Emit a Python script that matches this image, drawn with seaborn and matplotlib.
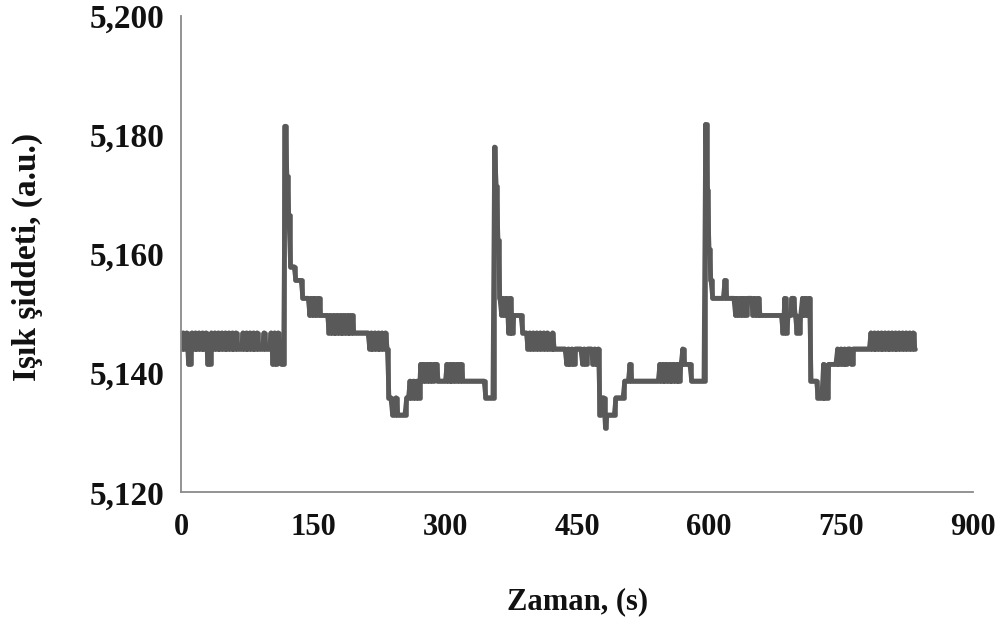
import numpy as np
import pandas as pd
import matplotlib
matplotlib.use("Agg")
import matplotlib.pyplot as plt
import seaborn as sns
from matplotlib.ticker import FuncFormatter

sns.set_theme(style="white")
plt.rcParams["font.family"] = ["Liberation Serif", "DejaVu Serif"]

# Sampling grid of the detector (one reading every 2 s)
seconds = np.arange(0, 836, 2)

# Light intensity readings (a.u.), 10 readings per row = 20 s per row
intensity = [
    5144.1, 5146.8, 5144.1, 5146.8, 5141.5, 5141.5, 5146.8, 5144.1, 5146.8, 5144.1,  # 0
    5146.8, 5144.1, 5146.8, 5144.1, 5146.8, 5141.5, 5141.5, 5146.8, 5144.1, 5146.8,  # 20
    5144.1, 5146.8, 5144.1, 5146.8, 5144.1, 5146.8, 5144.1, 5146.8, 5144.1, 5146.8,  # 40
    5144.1, 5146.8, 5144.1, 5144.1, 5144.1, 5146.8, 5144.1, 5146.8, 5144.1, 5146.8,  # 60
    5144.1, 5146.8, 5144.1, 5146.8, 5144.1, 5144.1, 5144.1, 5146.8, 5144.1, 5144.1,  # 80
    5144.1, 5146.8, 5141.5, 5146.8, 5141.5, 5146.8, 5144.1, 5141.5, 5141.5, 5181.5,  # 100
    5173.1, 5166.6, 5157.9, 5157.9, 5157.9, 5155.6, 5155.6, 5155.6, 5155.6, 5152.6,  # 120
    5152.6, 5152.6, 5152.6, 5149.7, 5152.6, 5149.7, 5152.6, 5149.7, 5152.6, 5149.7,  # 140
    5149.7, 5149.7, 5149.7, 5149.7, 5146.8, 5149.7, 5146.8, 5149.7, 5146.8, 5149.7,  # 160
    5146.8, 5149.7, 5146.8, 5149.7, 5146.8, 5149.7, 5146.8, 5149.7, 5146.8, 5146.8,  # 180
    5146.8, 5146.8, 5146.8, 5146.8, 5146.8, 5146.8, 5146.8, 5144.1, 5146.8, 5144.1,  # 200
    5146.8, 5144.1, 5146.8, 5144.1, 5146.8, 5144.1, 5146.8, 5144.1, 5135.9, 5135.9,  # 220
    5133.0, 5133.0, 5135.9, 5133.0, 5133.0, 5133.0, 5133.0, 5133.0, 5135.9, 5135.9,  # 240
    5138.7, 5135.9, 5138.7, 5135.9, 5138.7, 5135.9, 5141.5, 5138.7, 5141.5, 5138.7,  # 260
    5141.5, 5138.7, 5141.5, 5138.7, 5141.5, 5141.5, 5138.7, 5138.7, 5138.7, 5138.7,  # 280
    5138.7, 5141.5, 5138.7, 5141.5, 5138.7, 5141.5, 5138.7, 5141.5, 5138.7, 5141.5,  # 300
    5138.7, 5138.7, 5138.7, 5138.7, 5138.7, 5138.7, 5138.7, 5138.7, 5138.7, 5138.7,  # 320
    5138.7, 5138.7, 5138.7, 5135.9, 5135.9, 5135.9, 5135.9, 5135.9, 5178.0, 5171.4,  # 340
    5162.4, 5152.6, 5149.7, 5152.6, 5149.7, 5152.6, 5146.8, 5152.6, 5146.8, 5149.7,  # 360
    5149.7, 5149.7, 5149.7, 5149.7, 5146.8, 5146.8, 5146.8, 5144.1, 5146.8, 5144.1,  # 380
    5146.8, 5144.1, 5146.8, 5144.1, 5146.8, 5144.1, 5146.8, 5144.1, 5146.8, 5144.1,  # 400
    5144.1, 5146.8, 5144.1, 5144.1, 5144.1, 5144.1, 5144.1, 5144.1, 5144.1, 5141.5,  # 420
    5144.1, 5141.5, 5144.1, 5141.5, 5144.1, 5144.1, 5144.1, 5144.1, 5141.5, 5144.1,  # 440
    5141.5, 5144.1, 5144.1, 5144.1, 5141.5, 5144.1, 5141.5, 5144.1, 5133.0, 5135.9,  # 460
    5135.9, 5130.8, 5133.0, 5133.0, 5133.0, 5133.0, 5133.0, 5135.9, 5135.9, 5135.9,  # 480
    5135.9, 5135.9, 5138.7, 5138.7, 5138.7, 5141.5, 5138.7, 5138.7, 5138.7, 5138.7,  # 500
    5138.7, 5138.7, 5138.7, 5138.7, 5138.7, 5138.7, 5138.7, 5138.7, 5138.7, 5138.7,  # 520
    5138.7, 5138.7, 5141.5, 5138.7, 5141.5, 5138.7, 5141.5, 5138.7, 5141.5, 5138.7,  # 540
    5141.5, 5138.7, 5141.5, 5138.7, 5141.5, 5144.1, 5141.5, 5141.5, 5141.5, 5141.5,  # 560
    5138.7, 5138.7, 5138.7, 5138.7, 5138.7, 5138.7, 5138.7, 5138.7, 5181.8, 5170.8,  # 580
    5160.8, 5155.6, 5152.6, 5152.6, 5152.6, 5152.6, 5152.6, 5152.6, 5152.6, 5155.6,  # 600
    5152.6, 5152.6, 5152.6, 5152.6, 5152.6, 5149.7, 5152.6, 5149.7, 5152.6, 5149.7,  # 620
    5152.6, 5149.7, 5152.6, 5152.6, 5152.6, 5149.7, 5152.6, 5149.7, 5152.6, 5149.7,  # 640
    5149.7, 5149.7, 5149.7, 5149.7, 5149.7, 5149.7, 5149.7, 5149.7, 5149.7, 5149.7,  # 660
    5149.7, 5149.7, 5146.8, 5152.6, 5146.8, 5149.7, 5149.7, 5152.6, 5152.6, 5149.7,  # 680
    5146.8, 5146.8, 5149.7, 5152.6, 5149.7, 5152.6, 5149.7, 5152.6, 5138.7, 5138.7,  # 700
    5138.7, 5138.7, 5135.9, 5135.9, 5135.9, 5141.5, 5135.9, 5135.9, 5141.5, 5141.5,  # 720
    5141.5, 5141.5, 5141.5, 5144.1, 5141.5, 5144.1, 5141.5, 5144.1, 5141.5, 5144.1,  # 740
    5144.1, 5141.5, 5144.1, 5144.1, 5144.1, 5144.1, 5144.1, 5144.1, 5144.1, 5144.1,  # 760
    5144.1, 5144.1, 5146.8, 5144.1, 5146.8, 5144.1, 5146.8, 5144.1, 5146.8, 5144.1,  # 780
    5146.8, 5144.1, 5146.8, 5144.1, 5146.8, 5144.1, 5146.8, 5144.1, 5146.8, 5144.1,  # 800
    5146.8, 5144.1, 5146.8, 5144.1, 5146.8, 5144.1, 5146.8, 5144.1,                  # 820
]

x_ticks = [0, 150, 300, 450, 600, 750, 900]
y_ticks = [5120, 5140, 5160, 5180, 5200]
x_label = "Zaman, (s)"
y_label = "Işık şiddeti, (a.u.)"

df = pd.DataFrame({"t": seconds, "I": intensity})

line_color = "#595959"
axis_color = "#8a8a8a"
text_color = "#111111"
line_width = 3.3

fig = plt.figure(figsize=(10.06, 6.24), dpi=100)
ax = fig.add_axes([0.1804, 0.2111, 0.7868, 0.7633])

# Held readings give square level changes; the straight pass on top keeps the
# fast decay after each light pulse smooth.
line_kw = dict(ax=ax, color=line_color, linewidth=line_width, estimator=None,
               sort=False, solid_joinstyle="round", solid_capstyle="round")
sns.lineplot(data=df, x="t", y="I", drawstyle="steps-mid", **line_kw)
sns.lineplot(data=df, x="t", y="I", **line_kw)

ax.set_xlim(x_ticks[0], x_ticks[-1])
ax.set_ylim(y_ticks[0], y_ticks[-1])
ax.set_xticks(x_ticks)
ax.set_yticks(y_ticks)
ax.yaxis.set_major_formatter(FuncFormatter(lambda v, p: f"{v:,.0f}"))

for side in ("top", "right"):
    ax.spines[side].set_visible(False)
for side in ("left", "bottom"):
    ax.spines[side].set_color(axis_color)
    ax.spines[side].set_linewidth(1.3)

ax.tick_params(axis="both", direction="out", length=7, width=1.3,
               color=axis_color, labelcolor=text_color)
ax.tick_params(axis="y", pad=5, labelsize=24)
ax.tick_params(axis="x", pad=8, labelsize=22)
for lab in ax.get_xticklabels() + ax.get_yticklabels():
    lab.set_fontweight("bold")

ax.set_xlabel(x_label, fontsize=22, fontweight="bold", color=text_color, va="center")
ax.set_ylabel(y_label, fontsize=24, fontweight="bold", color=text_color, va="center")
ax.xaxis.set_label_coords(0.5, -0.230)
ax.yaxis.set_label_coords(-0.195, 0.495)

fig.savefig("out.png", dpi=100)
